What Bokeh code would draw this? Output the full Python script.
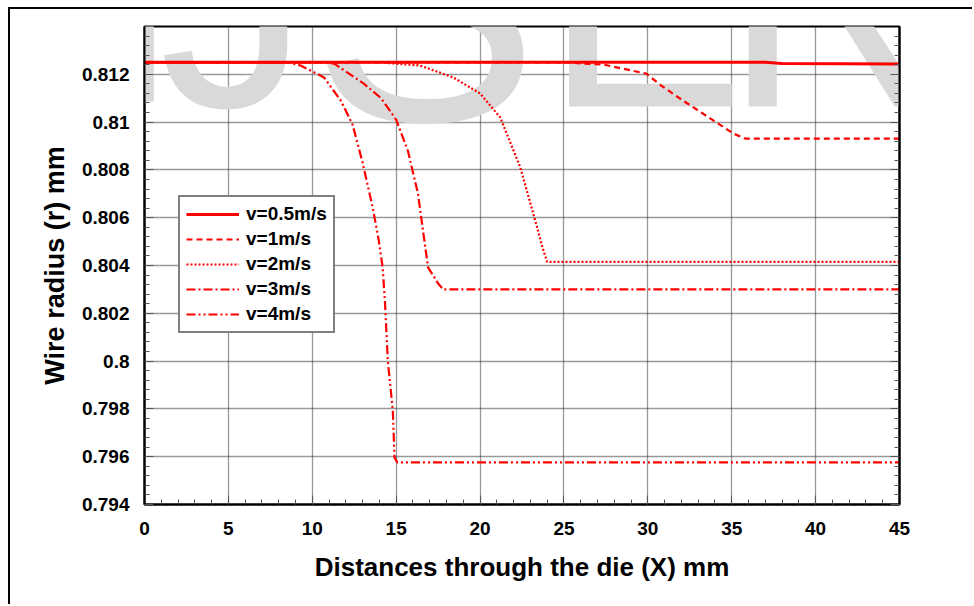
from bokeh.plotting import figure
from bokeh.models import (FixedTicker, LinearAxis, Legend, LegendItem, Label, Range1d)
from bokeh.embed import file_html
from bokeh.resources import INLINE

# ---------------- data ----------------
x_tick_vals = [0, 5, 10, 15, 20, 25, 30, 35, 40, 45]
y_tick_vals = [0.794, 0.796, 0.798, 0.8, 0.802, 0.804, 0.806, 0.808, 0.81, 0.812]
y_tick_labels = ["0.794", "0.796", "0.798", "0.8", "0.802", "0.804", "0.806", "0.808", "0.81", "0.812"]

x_v05 = [0, 20, 37, 38, 45]
r_v05 = [0.8125, 0.8125, 0.8125, 0.81245, 0.81243]

x_v1 = [0, 25, 27.4, 29.9, 30.8, 32.1, 33.9, 35.1, 35.8, 45]
r_v1 = [0.8125, 0.8125, 0.8124, 0.81203, 0.81153, 0.8109, 0.81007, 0.80952, 0.80931, 0.80931]

x_v2 = [0, 14, 16.4, 18.4, 20.0, 21.2, 22.4, 23.4, 23.7, 24.0, 45]
r_v2 = [0.8125, 0.8125, 0.81237, 0.81187, 0.8112, 0.8102, 0.8081, 0.8056, 0.8048, 0.80415, 0.80415]

x_v3 = [0, 10.5, 11.3, 13.05, 14.1, 15.0, 15.7, 16.3, 16.9, 17.5, 17.8, 45]
r_v3 = [0.8125, 0.8125, 0.81245, 0.81162, 0.8110, 0.8101, 0.8088, 0.8070, 0.80392, 0.80325, 0.80300, 0.80300]

x_v4 = [0, 8.5, 9.3, 10.7, 11.7, 12.4, 13.0, 13.6, 13.95, 14.2, 14.35, 14.5, 14.8, 14.9, 15.07, 45]
r_v4 = [0.8125, 0.8125, 0.81237, 0.81187, 0.8109, 0.8099, 0.8083, 0.80643, 0.8051, 0.8039, 0.80224, 0.80003, 0.79793, 0.79597, 0.79576, 0.79576]

series_names = ["v=0.5m/s", "v=1m/s", "v=2m/s", "v=3m/s", "v=4m/s"]

# ---------------- figure ----------------
FONT = "Liberation Sans"
p = figure(width=964, height=597, output_backend="svg", toolbar_location=None,
           x_range=Range1d(0, 45), y_range=Range1d(0.794, 0.814),
           min_border_left=134, min_border_top=17, min_border_right=75, min_border_bottom=102)
p.styles = {"margin-left": "8px", "margin-top": "7px",
            "border-left": "2px solid black", "border-top": "2px solid black"}

p.outline_line_color = "black"
p.outline_line_width = 2
p.outline_line_alpha = 1

# watermark letters (decoration, screen offsets from the frame's bottom-left)
wm_letters = ["I", "J", "S", "E", "R"]
wm_sx = [-4, 90, 281, 500, 688]
wm_size = ["285px", "300px", "340px", "300px", "300px"]
for ch, sx, fs in zip(wm_letters, wm_sx, wm_size):
    p.add_layout(Label(x=sx, y=502, x_units="screen", y_units="screen", text=ch,
                       text_font=FONT, text_font_size=fs,
                       text_color="#d9d9d9", text_baseline="alphabetic", text_align="center",
                       level="underlay"))

minor_x = [v for v in range(0, 46) if v % 5 != 0]
minor_y = [round(0.794 + i * 0.0004, 4) for i in range(0, 51) if i % 5 != 0]

xt = FixedTicker(ticks=x_tick_vals, minor_ticks=minor_x)
yt = FixedTicker(ticks=y_tick_vals, minor_ticks=minor_y)

p.xaxis.ticker = xt
p.yaxis.ticker = yt
p.yaxis.major_label_overrides = {t: l for t, l in zip(y_tick_vals, y_tick_labels)}

for ax in (p.xaxis[0], p.yaxis[0]):
    ax.axis_line_color = "black"
    ax.axis_line_width = 2
    ax.major_tick_in = 9
    ax.major_tick_out = 0
    ax.minor_tick_in = 5
    ax.minor_tick_out = 0
    ax.major_tick_line_color = "#555555"
    ax.minor_tick_line_color = "#555555"
    ax.major_label_text_font = FONT
    ax.major_label_text_font_style = "bold"
    ax.major_label_text_font_size = "19px"
    ax.major_label_text_color = "black"
    ax.axis_label_text_font = FONT
    ax.axis_label_text_font_style = "bold"
    ax.axis_label_text_color = "black"

p.xaxis.axis_label = "Distances through the die (X) mm"
p.yaxis.axis_label = "Wire radius (r) mm"
p.xaxis.axis_label_text_font_size = "26px"
p.yaxis.axis_label_text_font_size = "27px"
p.xaxis.major_label_standoff = 17
p.yaxis.major_label_standoff = 15
p.xaxis.axis_label_standoff = 14
p.yaxis.axis_label_standoff = 9

right_ax = LinearAxis(ticker=yt, axis_line_color="black",
                      axis_line_width=2, major_tick_in=9, major_tick_out=0, minor_tick_in=5,
                      minor_tick_out=0, major_tick_line_color="#555555",
                      minor_tick_line_color="#555555", major_label_standoff=0)
right_ax.major_label_overrides = {t: "" for t in y_tick_vals}
p.add_layout(right_ax, "right")

for g in (p.xgrid[0], p.ygrid[0]):
    g.grid_line_color = "#333333"
    g.grid_line_dash = "1 1"
    g.grid_line_width = 1.3

RED = "#ff0000"
r0 = p.line(x_v05, r_v05, line_color=RED, line_width=3)
r1 = p.line(x_v1, r_v1, line_color=RED, line_width=2.2, line_dash="6 4")
r2 = p.line(x_v2, r_v2, line_color=RED, line_width=2.2, line_dash="2 2")
r3 = p.line(x_v3, r_v3, line_color=RED, line_width=2.2, line_dash="9 3 2 3")
r4 = p.line(x_v4, r_v4, line_color=RED, line_width=2.2, line_dash="9 3 2 3 2 3")

legend = Legend(items=[LegendItem(label=n, renderers=[r]) for n, r in
                       zip(series_names, [r0, r1, r2, r3, r4])],
                location=(34, 171))
legend.label_text_font = FONT
legend.label_text_font_style = "bold"
legend.label_text_font_size = "19px"
legend.label_text_color = "black"
legend.glyph_width = 53
legend.glyph_height = 20
legend.spacing = 3
legend.padding = 6
legend.margin = 0
legend.label_standoff = 7
legend.border_line_color = "black"
legend.border_line_width = 2
legend.background_fill_color = "white"
legend.background_fill_alpha = 1
p.add_layout(legend, "center")

open("out.html", "w").write(file_html(p, INLINE))
